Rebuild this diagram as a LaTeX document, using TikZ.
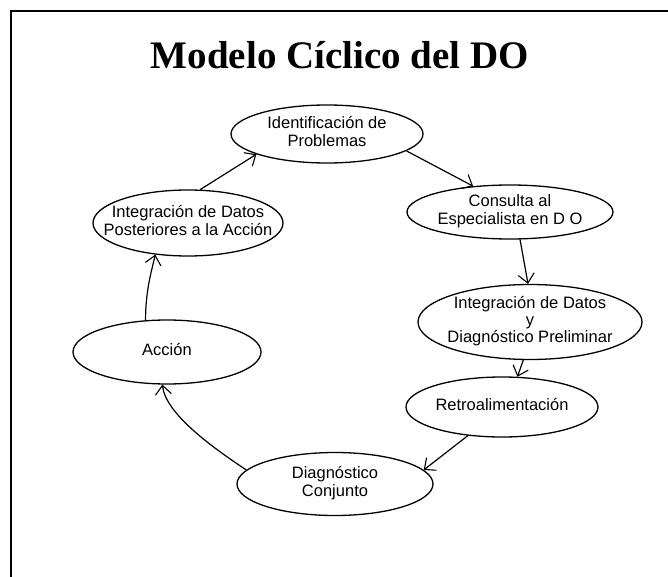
\documentclass[tikz,border=0pt]{standalone}
\usepackage{fontspec}
\setmainfont{Liberation Sans}
\newfontfamily\titlefont{Liberation Serif}
\usetikzlibrary{shapes.geometric,arrows.meta}
\newcommand\eltxt[1]{\makebox[0pt]{\begin{tabular}{@{}c@{}}#1\end{tabular}}}
\begin{document}
\begin{tikzpicture}[x=1pt,y=-1pt,
  el/.style={draw, ellipse, inner sep=0pt, line width=1.3pt, font=\fontsize{16.5}{17.5}\selectfont},
  conn/.style={line width=1.2pt, -{Straight Barb[length=9pt,width=16pt,line width=1.1pt]}}]
\useasboundingbox (0,0) rectangle (668,577);
\fill[white] (0,0) rectangle (668,577);
\draw[line width=2pt] (10,11) -- (668,11);
\draw[line width=1.5pt] (11,10) -- (11,577);
\node[font=\titlefont\bfseries\fontsize{39}{44}\selectfont, anchor=base, inner sep=0pt] (title) at (340,69) {Modelo Cíclico del DO};

\node[el, minimum width=192pt, minimum height=58pt] (n1) at (327,134) {\eltxt{Identificación de\\Problemas}};
\node[el, minimum width=206pt, minimum height=54pt] (n2) at (510,212) {\eltxt{Consulta al\\Especialista en D O}};
\node[el, minimum width=224pt, minimum height=75pt] (n3) at (530,322) {\eltxt{Integración de Datos\\[-1pt] y\\[-0.5pt] Diagnóstico Preliminar}};
\node[el, minimum width=192pt, minimum height=60pt] (n4) at (502,407) {\eltxt{Retroalimentación}};
\node[el, minimum width=196pt, minimum height=63pt] (n5) at (335,484) {\eltxt{Diagnóstico\\Conjunto}};
\node[el, minimum width=188pt, minimum height=64pt] (n6) at (167,352) {\eltxt{Acción}};
\node[el, minimum width=190pt, minimum height=66pt] (n7) at (188,223) {\eltxt{Integración de Datos\\Posteriores a la Acción}};

\draw[conn] (n1.-12) -- (n2.145);
\draw[conn] (n2.-70) -- (n3.93);
\draw[conn] (n3.-100) -- (n4.63);
\draw[conn] (n4.220) -- (n5.9);
\draw[conn] (n5.171) .. controls +(-30,-20) and +(3,30) .. (n6.-98);
\draw[conn] (n6.124) .. controls +(0,-30) and +(-4,18) .. (n7.224);
\draw[conn] (n7.70) -- (n1.196);
\end{tikzpicture}
\end{document}
